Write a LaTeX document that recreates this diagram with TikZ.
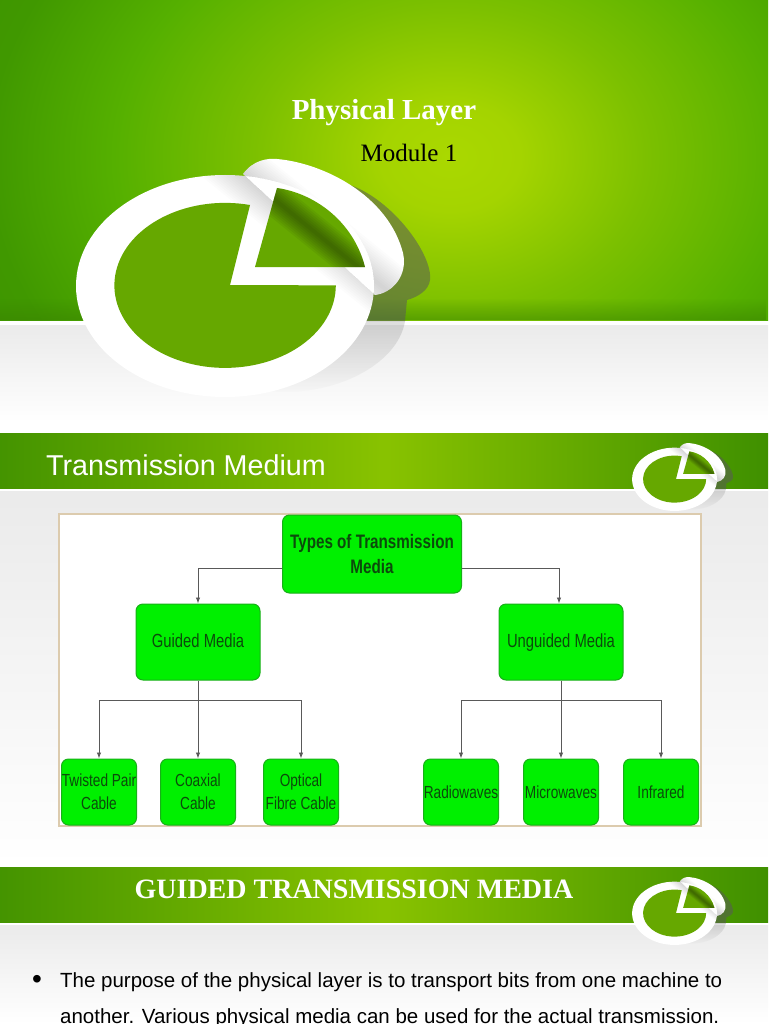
\documentclass[tikz,border=0pt]{standalone}
\usepackage{fontspec}
\setmainfont{Liberation Serif}
\setsansfont{Liberation Sans}
\newfontfamily\boxfont[FakeStretch=0.78]{Liberation Sans}
\usepackage{tikz}
\usetikzlibrary{fadings,arrows.meta}
\definecolor{lime}{HTML}{A8D800}
\definecolor{leaf}{HTML}{66A800}
\definecolor{deep}{HTML}{3F9000}
\definecolor{boxgreen}{HTML}{00F000}
\definecolor{boxedge}{HTML}{18B018}
\definecolor{boxtext}{HTML}{0C4A0C}
\definecolor{frametan}{HTML}{DCCBAE}
\definecolor{glowa}{HTML}{AAD800}
\definecolor{glowb}{HTML}{A4D400}
\definecolor{glowc}{HTML}{7CC000}
\definecolor{glowd}{HTML}{55B000}
\definecolor{glowe}{HTML}{409800}
\definecolor{glowf}{HTML}{3A8C00}
\pgfdeclareradialshading{slideglow}{\pgfpoint{0bp}{0bp}}{color(0bp)=(glowa); color(2.5bp)=(glowb); color(7bp)=(glowc); color(12bp)=(glowd); color(16.5bp)=(glowe); color(25bp)=(glowf); color(50bp)=(glowf)}
\tikzset{
  logo/.pic={
    % shadow behind the flap
    \fill[black!65,opacity=.55] (127,100) .. controls (170,85) and (210,30) .. (207,5) .. controls (206,-5) and (195,-12) .. (184,-15) -- (182,-36) -- (100,-36) -- (100,50) -- cycle;
    \fill[black!60,opacity=.22,path fading=south] (182,-36) .. controls (175,-80) and (110,-112) .. (50,-106) -- (100,-36) -- cycle;
    % white label
    \fill[white] (2,-1) ellipse [x radius=149pt,y radius=111pt];
    \fill[white] (20,111) .. controls (30,125) and (45,127) .. (54,126) .. controls (100,122) and (165,90) .. (180,32) .. controls (185,10) and (170,-8) .. (152,-10) -- cycle;
    \begin{scope}
      \clip (2,-1) ellipse [x radius=149pt,y radius=111pt] (20,111) .. controls (30,125) and (45,127) .. (54,126) .. controls (100,122) and (165,90) .. (180,32) .. controls (185,10) and (170,-8) .. (152,-10) -- cycle;
      \foreach \w in {2,4,...,28}
        \fill[black,opacity=.013,rotate around={-39:(93,52)}] (-47,52-\w) rectangle (233,52+\w);
    \end{scope}
    % wedge on the flap
    \begin{scope}
      \clip (54,97) -- (32,18) -- (142,18) .. controls (130,65) and (90,92) .. (54,97) -- cycle;
      \fill[leaf] (20,10) rectangle (150,100);
      \foreach \w in {2,4,...,16}
        \fill[black,opacity=.05,rotate around={-39:(93,52)}] (-7,52-\w) rectangle (193,52+\w);
    \end{scope}
    % main piece
    \fill[leaf] (7,0) -- (27,80) arc [start angle=77,end angle=360,x radius=110.7pt,y radius=82.5pt] -- cycle;
  }
}
\begin{document}
\begin{tikzpicture}[x=1pt,y=1pt,
  main/.style={draw=boxedge,line width=1pt,fill=boxgreen,rounded corners=7pt,align=center,inner sep=0pt,text=boxtext},
  mid/.style={main,minimum width=124pt,minimum height=76pt,text height=14pt,text depth=4pt,font=\boxfont\fontsize{19}{25}\selectfont},
  small/.style={main,minimum width=75pt,minimum height=66pt,font=\boxfont\fontsize{17.5}{23}\selectfont},
  conn/.style={draw=black!65,line width=.9pt},
  tip/.style={conn,-{Latex[length=6pt,width=4.5pt]}},
  band/.style={left color=deep!95!lime,right color=deep,middle color=lime!70!deep},
  body/.style={top color=black!8,bottom color=white,draw=none}]
\useasboundingbox (0,0) rectangle (768,-1024);
\fill[white] (0,0) rectangle (768,-1024);
% first slide
\begin{scope}
  \clip (0,0) rectangle (768,-320);
  \shade[shading=slideglow] (450,-157) ellipse [x radius=700pt,y radius=540pt];
  \fill[deep!90!black,opacity=.5,path fading=north] (0,-298) rectangle (768,-320);
\end{scope}
\shade[body] (0,-325) rectangle (768,-422);
\pic at (223,-285) {logo};
\node[text=white,font=\bfseries\fontsize{29}{33}\selectfont] (title) at (384,-113) {Physical Layer};
\node[text=black,font=\fontsize{25}{30}\selectfont] (module) at (409,-153) {Module 1};
% second slide
\shade[band] (0,-433) rectangle (768,-488);
\shade[body] (0,-491) rectangle (768,-866);
\pic[scale=.285] at (674,-479) {logo};
\node[text=white,anchor=west,inner sep=0pt,font=\sffamily\fontsize{28.7}{32}\selectfont] (medium) at (46,-465) {Transmission Medium};
\node[draw=frametan,line width=2pt,fill=white,minimum width=642pt,minimum height=312pt,inner sep=0pt] (frame) at (380,-670) {};
\node[main,minimum width=179pt,minimum height=78pt,font=\boxfont\bfseries\fontsize{19.5}{25}\selectfont] (root) at (372,-554) {Types of Transmission\\Media};
\node[mid] (guided) at (198,-642) {Guided Media};
\node[mid] (unguided) at (561,-642) {Unguided Media};
\node[small,node distance=150pt] (coaxial) [below of=guided] {Coaxial\\Cable};
\node[small,node distance=99pt] (twisted) [left of=coaxial] {Twisted Pair\\Cable};
\node[small,node distance=103pt] (optical) [right of=coaxial] {Optical\\Fibre Cable};
\node[small,node distance=150pt] (micro) [below of=unguided] {Microwaves};
\node[small,node distance=100pt] (radio) [left of=micro] {Radiowaves};
\node[small,node distance=100pt] (infra) [right of=micro] {Infrared};
\draw[tip] ([yshift=-14pt]root.west) -| (guided.north);
\draw[tip] ([yshift=-14pt]root.east) -| ([xshift=-2pt]unguided.north);
\draw[tip] (guided.south) -- (coaxial.north);
\draw[tip] ([yshift=-20pt]guided.south) -| (twisted.north);
\draw[tip] ([yshift=-20pt]guided.south) -| (optical.north);
\draw[tip] (unguided.south) -- (micro.north);
\draw[tip] ([yshift=-20pt]unguided.south) -| (radio.north);
\draw[tip] ([yshift=-20pt]unguided.south) -| (infra.north);
% third slide
\shade[band] (0,-867) rectangle (768,-922);
\shade[body] (0,-925) rectangle (768,-1024);
\pic[scale=.285] at (674,-913) {logo};
\node[text=white,font=\bfseries\fontsize{28}{32}\selectfont] (heading) at (354,-889) {GUIDED TRANSMISSION MEDIA};
\node[text=black,font=\sffamily\fontsize{28}{32}\selectfont] (dot) at (37,-982) {\textbullet};
\node[text=black,anchor=west,inner sep=0pt,font=\sffamily\fontsize{20.5}{24}\selectfont] (line1) at (60,-982) {The purpose of the physical layer is to transport bits from one machine to};
\node[text=black,anchor=west,inner sep=0pt,font=\sffamily\fontsize{20.5}{24}\selectfont] (line2) at (60,-1018) {another. Various physical media can be used for the actual transmission.};
\end{tikzpicture}
\end{document}
